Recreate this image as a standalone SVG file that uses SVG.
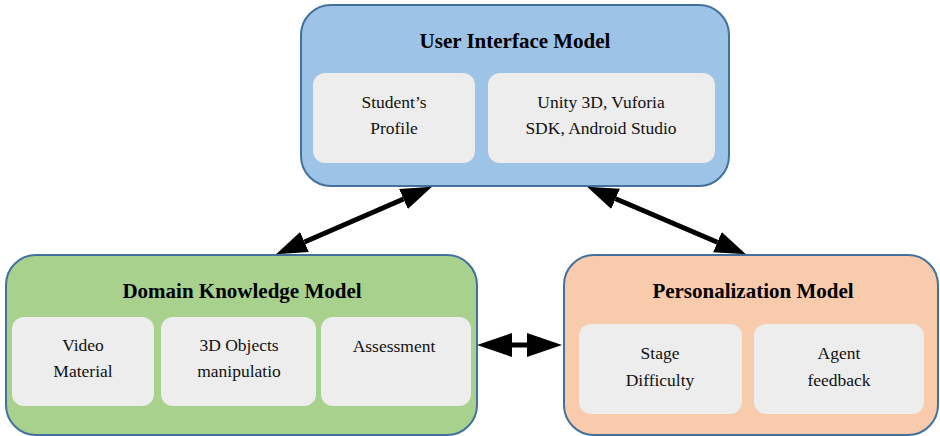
<svg xmlns="http://www.w3.org/2000/svg" width="940" height="436" viewBox="0 0 940 436">
<style>
.box{stroke:#41719C;stroke-width:2}
.cell{fill:#EDEDED;stroke:none}
.hd{font-family:"Liberation Serif",serif;font-weight:bold;font-size:21px;fill:#000;text-anchor:middle}
.tx{font-family:"Liberation Serif",serif;font-size:17.5px;fill:#111;text-anchor:middle}
.conn{stroke:#000;stroke-width:5;fill:none}
</style>
<defs>
<marker id="ah" markerUnits="userSpaceOnUse" markerWidth="40" markerHeight="30" refX="0" refY="11" orient="auto-start-reverse" viewBox="0 0 40 22">
<path d="M0,0 L31,11 L0,22 z" fill="#000"/>
</marker>
<marker id="ah2" markerUnits="userSpaceOnUse" markerWidth="40" markerHeight="30" refX="0" refY="12" orient="auto-start-reverse" viewBox="0 0 40 24">
<path d="M0,0 L35,12 L0,24 z" fill="#000"/>
</marker>
</defs>
<g id="ui-model">
<rect class="box" x="301" y="5" width="428" height="181" rx="30" fill="#9DC3E6"/>
<text class="hd" font-family="Liberation Serif" x="515" y="48">User Interface Model</text>
<g id="student-profile">
<rect class="cell" x="313" y="73" width="162" height="90" rx="12"/>
<text class="tx" font-family="Liberation Serif" x="394" y="108">Student&#8217;s</text>
<text class="tx" font-family="Liberation Serif" x="394" y="134">Profile</text>
</g>
<g id="unity">
<rect class="cell" x="488" y="73" width="227" height="90" rx="12"/>
<text class="tx" font-family="Liberation Serif" x="601" y="108">Unity 3D, Vuforia</text>
<text class="tx" font-family="Liberation Serif" x="601" y="134">SDK, Android Studio</text>
</g>
</g>
<g id="domain-model">
<rect class="box" x="6" y="255" width="471" height="180" rx="30" fill="#A9D18E"/>
<text class="hd" font-family="Liberation Serif" x="242" y="298">Domain Knowledge Model</text>
<g id="video">
<rect class="cell" x="12" y="317" width="142" height="89" rx="12"/>
<text class="tx" font-family="Liberation Serif" x="83" y="351">Video</text>
<text class="tx" font-family="Liberation Serif" x="83" y="377">Material</text>
</g>
<g id="objects3d">
<rect class="cell" x="161" y="317" width="155" height="89" rx="12"/>
<text class="tx" font-family="Liberation Serif" x="239" y="351">3D Objects</text>
<text class="tx" font-family="Liberation Serif" x="239" y="377">manipulatio</text>
</g>
<g id="assessment">
<rect class="cell" x="321" y="317" width="150" height="89" rx="12"/>
<text class="tx" font-family="Liberation Serif" x="394" y="352">Assessment</text>
</g>
</g>
<g id="personalization-model">
<rect class="box" x="564" y="255" width="374" height="180" rx="30" fill="#F8CBAD"/>
<text class="hd" font-family="Liberation Serif" x="753" y="298">Personalization Model</text>
<g id="stage">
<rect class="cell" x="579" y="324" width="163" height="90" rx="12"/>
<text class="tx" font-family="Liberation Serif" x="660" y="359">Stage</text>
<text class="tx" font-family="Liberation Serif" x="660" y="386">Difficulty</text>
</g>
<g id="agent">
<rect class="cell" x="754" y="324" width="170" height="90" rx="12"/>
<text class="tx" font-family="Liberation Serif" x="839" y="359">Agent</text>
<text class="tx" font-family="Liberation Serif" x="839" y="386">feedback</text>
</g>
</g>
<g id="connectors">
<line class="conn" x1="304.5" y1="242" x2="403.5" y2="199" marker-start="url(#ah)" marker-end="url(#ah)"/>
<line class="conn" x1="615.6" y1="198.8" x2="717.4" y2="242.2" marker-start="url(#ah)" marker-end="url(#ah)"/>
<line class="conn" x1="512" y1="345" x2="527" y2="345" stroke-width="6" marker-start="url(#ah2)" marker-end="url(#ah2)"/>
</g>
</svg>
